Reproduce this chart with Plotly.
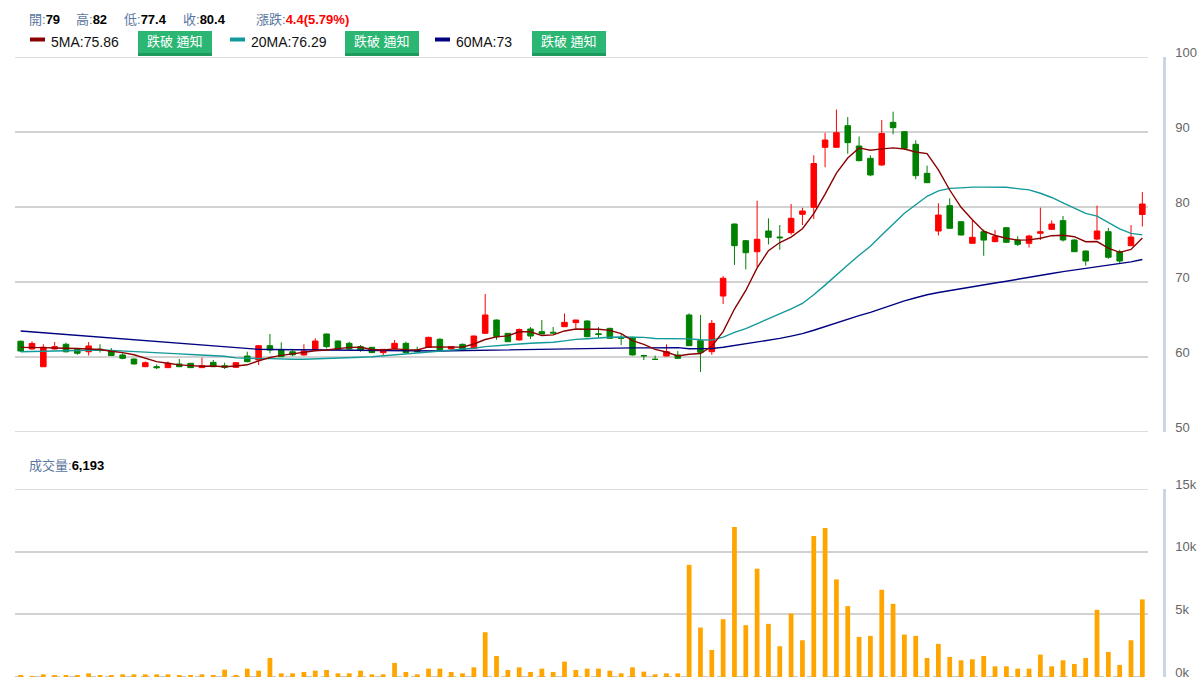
import plotly.graph_objects as go
import pandas as pd

# ---------------- data ----------------
opens = [62.1, 61.07, 58.7, 61.07, 61.7, 61.0, 60.7, 61.05, 60.8, 60.27,
         59.73, 58.71, 58.71, 58.58, 59.07, 59.16, 58.58, 59.29, 58.84, 58.62,
         60.13, 59.6, 61.51, 60.93, 60.7, 60.27, 61.02, 63.07, 62.13, 61.82,
         61.38, 61.29, 60.58, 61.16, 61.82, 60.93, 61.29, 62.36, 61.07, 61.69,
         61.16, 63.16, 64.93, 63.16, 62.27, 63.73, 63.38, 63.3, 64.04, 64.58,
         64.8, 63.1, 63.82, 62.6, 62.62, 60.2, 59.7, 60.13, 60.27, 65.6,
         62.18, 60.71, 68.13, 77.73, 75.51, 74.04, 76.8, 76.0, 76.58, 79.02,
         79.96, 87.96, 87.96, 90.84, 88.13, 86.49, 85.6, 91.29, 90.04, 88.36,
         84.49, 76.8, 80.18, 78.04, 75.16, 76.71, 75.38, 77.24, 75.6, 75.16,
         76.5, 77.02, 78.18, 75.6, 74.13, 75.73, 76.71, 74.04, 74.84, 79.0]
highs = [62.2, 62.1, 61.7, 62.0, 61.9, 61.1, 62.0, 61.7, 61.2, 60.5,
         59.8, 59.4, 59.0, 59.4, 59.73, 59.2, 59.9, 59.6, 59.24, 59.3,
         60.7, 61.6, 63.07, 61.96, 61.0, 61.7, 62.5, 63.1, 62.2, 62.04,
         61.6, 61.35, 61.05, 62.27, 62.04, 61.38, 62.7, 62.5, 61.45, 61.8,
         62.85, 68.4, 65.0, 63.2, 63.8, 64.0, 64.93, 64.0, 65.8, 64.95,
         64.9, 64.0, 63.9, 63.02, 62.7, 60.3, 60.2, 61.7, 60.8, 65.82,
         65.6, 64.93, 70.8, 77.8, 75.6, 80.84, 78.49, 77.6, 80.4, 79.9,
         86.9, 89.9, 93.0, 92.0, 89.4, 86.9, 91.6, 92.71, 90.1, 88.9,
         85.51, 80.5, 81.16, 78.1, 78.3, 77.0, 76.93, 77.3, 76.1, 76.3,
         79.91, 78.2, 78.8, 75.7, 74.2, 80.18, 77.2, 74.3, 77.6, 82.0]
lows = [60.7, 61.0, 58.7, 61.0, 60.6, 60.3, 60.2, 60.6, 60.15, 59.7,
        59.0, 58.65, 58.4, 58.55, 58.65, 58.55, 58.55, 58.65, 58.4, 58.58,
        59.3, 58.93, 60.5, 60.0, 60.1, 60.2, 61.0, 61.16, 61.0, 61.0,
        60.7, 60.55, 60.27, 61.1, 60.55, 60.6, 61.25, 60.9, 60.8, 60.85,
        61.1, 63.1, 62.3, 62.0, 62.2, 62.4, 63.0, 63.15, 64.0, 63.8,
        62.65, 62.6, 62.45, 61.6, 60.2, 59.6, 59.65, 60.1, 59.75, 61.45,
        58.0, 60.3, 67.07, 72.27, 71.69, 72.0, 75.0, 74.3, 76.3, 77.6,
        78.4, 85.3, 87.9, 87.1, 86.1, 84.1, 85.5, 89.69, 87.6, 83.7,
        83.2, 76.2, 77.1, 76.2, 75.1, 73.5, 75.3, 75.2, 74.8, 74.6,
        75.6, 76.95, 75.4, 74.0, 72.18, 75.6, 73.1, 72.5, 74.8, 77.4]
closes = [60.8, 61.8, 61.3, 61.38, 60.7, 60.5, 61.47, 60.95, 60.2, 59.82,
          59.07, 59.24, 58.58, 59.16, 58.71, 58.58, 58.84, 58.71, 58.62, 59.24,
          59.38, 61.51, 60.93, 60.04, 60.3, 60.8, 62.13, 61.38, 61.02, 61.07,
          60.93, 60.58, 61.02, 61.82, 60.58, 60.7, 62.62, 60.93, 61.38, 60.93,
          62.8, 65.6, 62.71, 62.04, 63.67, 62.8, 63.07, 63.2, 64.62, 64.93,
          62.71, 63.0, 62.49, 62.5, 60.27, 60.15, 59.68, 60.71, 59.82, 61.51,
          60.62, 64.49, 70.5, 74.84, 73.91, 75.69, 75.96, 75.9, 78.49, 79.47,
          85.8, 88.93, 89.91, 88.58, 86.18, 84.27, 89.8, 90.58, 87.82, 84.18,
          83.24, 78.93, 77.16, 76.27, 75.96, 75.59, 76.04, 75.29, 75.02, 76.13,
          76.7, 77.73, 75.6, 74.04, 72.8, 76.8, 73.3, 72.8, 76.0, 80.4]
volumes = [107, 20, 213, 107, 107, 107, 293, 107, 107, 213,
           213, 213, 213, 213, 107, 107, 213, 107, 587, 107,
           667, 507, 1520, 293, 293, 400, 507, 560, 293, 293,
           507, 213, 213, 1120, 400, 213, 667, 667, 400, 293,
           773, 3573, 1680, 560, 773, 400, 667, 400, 1227, 560,
           667, 667, 507, 293, 773, 427, 213, 293, 293, 8950,
           3947, 2160, 4613, 11975, 4133, 8640, 4240, 2453, 5067, 2933,
           11253, 11893, 7787, 5653, 3200, 3280, 6960, 5840, 3387, 3280,
           1520, 2640, 1600, 1333, 1413, 1680, 853, 853, 667, 667,
           1787, 853, 1333, 1040, 1520, 5360, 2000, 960, 2933, 6193]
# moving-average values before enough in-chart history exists
ma5_head = [61.29, 61.3, 61.25, 61.2]
ma20_head = [60.71, 60.75, 60.8, 60.85, 60.88, 60.9, 60.92, 60.93, 60.88, 60.82,
             60.75, 60.67, 60.58, 60.49, 60.42, 60.34, 60.26, 60.18, 60.1]
ma60_head = [63.47, 63.35, 63.23, 63.11, 62.99, 62.87, 62.75, 62.63, 62.51, 62.39,
             62.27, 62.15, 62.03, 61.91, 61.79, 61.67, 61.55, 61.43, 61.31, 61.19,
             61.07, 61.02, 61.0, 60.98, 60.96, 60.94, 60.92, 60.9, 60.89, 60.88,
             60.87, 60.86, 60.85, 60.84, 60.83, 60.82, 60.81, 60.8, 60.83, 60.86,
             60.89, 60.92, 60.95, 60.98, 61.01, 61.04, 61.07, 61.1, 61.13, 61.16,
             61.19, 61.2, 61.2, 61.21, 61.22, 61.22, 61.23, 61.24, 61.25]
price_ticks = [50, 60, 70, 80, 90, 100]
vol_ticks = [0, 5000, 10000, 15000]
vol_tick_text = ["0k", "5k", "10k", "15k"]

x = list(range(len(closes)))
cs = pd.Series(closes)
ma5 = ma5_head + list(cs.rolling(5).mean().iloc[len(ma5_head):])
ma20 = ma20_head + list(cs.rolling(20).mean().iloc[len(ma20_head):])
ma60 = ma60_head + list(cs.rolling(60).mean().iloc[len(ma60_head):])

def fmt(v):
    return f"{v:.2f}".rstrip("0").rstrip(".")

W, H = 1203, 686
def px(v): return v / W
def py(v): return 1 - v / H

FONT = "Liberation Sans, Arial, Noto Sans CJK TC, sans-serif"
RED, GREEN = "#ff0000", "#008000"
GRID = "#d2d2d2"

fig = go.Figure()
fig.add_trace(go.Candlestick(
    x=x, open=opens, high=highs, low=lows, close=closes,
    increasing=dict(line=dict(color=RED, width=1), fillcolor=RED),
    decreasing=dict(line=dict(color=GREEN, width=1), fillcolor=GREEN),
    whiskerwidth=0, showlegend=False, hoverinfo="skip",
    xaxis="x", yaxis="y"))
for vals, col in [(ma60, "#000080"), (ma20, "#139999"), (ma5, "#8b0000")]:
    fig.add_trace(go.Scatter(x=x, y=vals, mode="lines",
                             line=dict(color=col, width=1.4),
                             showlegend=False, hoverinfo="skip",
                             xaxis="x", yaxis="y"))
fig.add_trace(go.Bar(x=x, y=volumes, width=0.42,
                     marker=dict(color="#ffa500", line=dict(width=0)),
                     showlegend=False, hoverinfo="skip",
                     xaxis="x", yaxis="y2"))

axis_common = dict(
    anchor="free", position=px(1164), side="right", automargin=False,
    showline=True, linecolor="#c8d6e6", linewidth=2.5,
    showgrid=True, gridcolor=GRID, gridwidth=1.5,
    zeroline=False, ticks="outside", ticklen=7, tickcolor="rgba(0,0,0,0)",
    tickfont=dict(family=FONT, size=13, color="#666666"),
    ticklabelshift=-5, fixedrange=True,
)

fig.update_layout(
    width=W, height=H, margin=dict(l=0, r=0, t=0, b=0, pad=0, autoexpand=False),
    paper_bgcolor="white", plot_bgcolor="white",
    boxgap=0.3,
    xaxis=dict(domain=[px(15), px(1148)], range=[-0.5, len(x) - 0.5],
               showticklabels=False, showgrid=False, zeroline=False, automargin=False,
               showline=False, rangeslider=dict(visible=False), fixedrange=True),
    yaxis=dict(domain=[py(432), py(57)], range=[price_ticks[0], price_ticks[-1]],
               tickvals=price_ticks, **axis_common),
    yaxis2=dict(domain=[py(677), py(489)], range=[vol_ticks[0], vol_ticks[-1]],
                tickvals=vol_ticks, ticktext=vol_tick_text, **axis_common),
    font=dict(family=FONT),
)

LBL = "#5b76a0"
anns = []
def txt(xp, yp, text, size=13, color="#000", anchor="left"):
    anns.append(dict(x=px(xp), y=py(yp), xref="paper", yref="paper",
                     text=text, showarrow=False, xanchor=anchor, yanchor="middle",
                     font=dict(family=FONT, size=size, color=color)))

# header row
chg = closes[-1] - closes[-2]
txt(27, 19, f"<span style='color:{LBL}'>開:</span><b>{fmt(opens[-1])}</b>")
txt(74, 19, f"<span style='color:{LBL}'>高:</span><b>{fmt(highs[-1])}</b>")
txt(122, 19, f"<span style='color:{LBL}'>低:</span><b>{fmt(lows[-1])}</b>")
txt(181, 19, f"<span style='color:{LBL}'>收:</span><b>{fmt(closes[-1])}</b>")
txt(254, 19, f"<span style='color:{LBL}'>漲跌:</span><b style='color:#ff0000'>{chg:.1f}({chg / closes[-2] * 100:.2f}%)</b>")

shapes = []
# boundary grid lines (plotly omits grid lines at the range edges)
for yref, yv, dash, col in [("y", price_ticks[-1], "solid", GRID),
                            ("y", price_ticks[0], "solid", GRID),
                            ("y2", vol_ticks[-1], "solid", GRID),
                            ("y2", vol_ticks[0], "dash", "#b8b8b8")]:
    shapes.append(dict(type="line", xref="x domain", yref=yref, x0=0, x1=1,
                       y0=yv, y1=yv, line=dict(color=col, width=1.5, dash=dash),
                       layer="below"))

legend_items = [(30, "#8b0000", f"5MA:{fmt(ma5[-1])}", 138),
                (230, "#139999", f"20MA:{fmt(ma20[-1])}", 345),
                (435, "#000080", f"60MA:{fmt(ma60[-1])}", 532)]
for sx, col, label, bx in legend_items:
    shapes.append(dict(type="rect", xref="paper", yref="paper",
                       x0=px(sx), x1=px(sx + 15), y0=py(41.5), y1=py(37.5),
                       fillcolor=col, line=dict(width=0)))
    txt(sx + 19, 42, label, size=14, color="#111")
    # notification button
    shapes.append(dict(type="rect", xref="paper", yref="paper",
                       x0=px(bx), x1=px(bx + 74), y0=py(56), y1=py(31),
                       fillcolor="#1f9a5e", line=dict(width=0)))
    shapes.append(dict(type="rect", xref="paper", yref="paper",
                       x0=px(bx), x1=px(bx + 74), y0=py(53), y1=py(31),
                       fillcolor="#2bb673", line=dict(width=0)))
    txt(bx + 37, 42, "跌破 通知", size=13, color="white", anchor="center")

# volume header
txt(27, 465, f"<span style='color:{LBL}'>成交量:</span><b>{volumes[-1]:,}</b>")

fig.update_layout(annotations=anns, shapes=shapes)
fig.write_html("out.html")
